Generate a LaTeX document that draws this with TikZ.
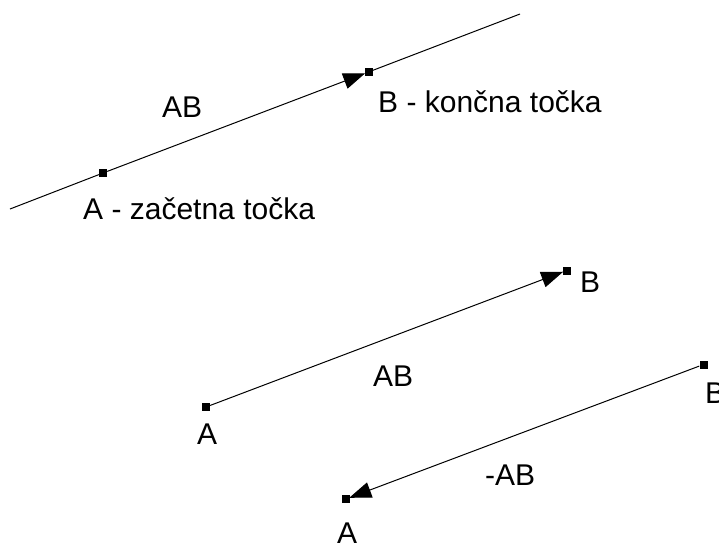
\documentclass[tikz,border=0pt]{standalone}
\usepackage{fontspec}
\setmainfont{Liberation Sans}
\usetikzlibrary{arrows.meta,positioning}
\tikzset{
  % --- nodes
  tocka/.style = {rectangle, fill=black, inner sep=0pt, minimum size=8pt},
  oznaka/.style= {anchor=base west, inner sep=0pt, font=\fontsize{30}{35}\selectfont},
  % --- edges
  premica/.style = {draw=black, line width=1pt},
  vektor/.style  = {premica, -{Triangle[length=22pt,width=16pt]}, shorten >=-1pt},
}
\begin{document}
\begin{tikzpicture}[x=1pt,y=-1pt]
  \useasboundingbox (0,0) rectangle (719,544);
  % --- premica skozi A in B
  \coordinate (L1) at (10,209);
  \coordinate (R1) at (520,14);
  \node[tocka] (A1) at (103,173) {};
  \node[tocka] (B1) at (368.5,72) {};
  \draw[premica] (L1) -- (A1);
  \draw[premica] (B1) -- (R1);
  \draw[vektor] (A1) -- (B1);
  \node[oznaka] (lAB1) at (162,117) {AB};
  \node[oznaka] (lB1) at (378,112) {B - končna točka};
  \node[oznaka] (lA1) at (83,219) {A - začetna točka};
  % --- vektor AB
  \node[tocka] (A2) at (206,407) {};
  \node[tocka] (B2) at (566.5,270.5) {};
  \draw[vektor] (A2) -- (B2);
  \node[oznaka] (lAB2) at (373,386) {AB};
  \node[oznaka] (lA2) at (197,444) {A};
  \node[oznaka] (lB2) at (580,292) {B};
  % --- nasprotni vektor -AB
  \node[tocka] (B3) at (703.5,364.5) {};
  \node[tocka] (A3) at (346,499) {};
  \draw[vektor] (B3) -- (A3);
  \node[oznaka] (lAB3) at (485,485) {-AB};
  \node[oznaka] (lA3) at (337,543) {A};
  \node[oznaka] (lB3) at (705,403) {B};
\end{tikzpicture}
\end{document}
